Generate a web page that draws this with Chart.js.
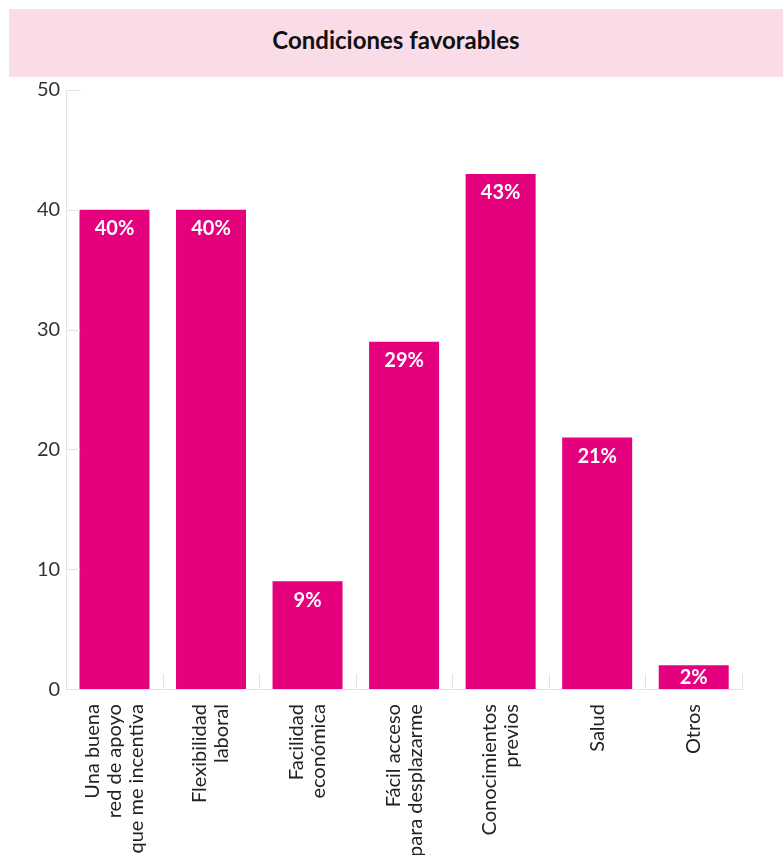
<!DOCTYPE html>
<html>
<head>
<meta charset="utf-8">
<script src="https://cdn.jsdelivr.net/npm/chart.js@4"></script>
<style>
  html, body { margin: 0; padding: 0; background: #fff; }
  #wrap { position: relative; width: 783px; height: 855px; overflow: hidden; }
  #banner {
    position: absolute; left: 9px; top: 9px; width: 774px; height: 68px;
    background: #fadbe8; font-family: Lato, sans-serif; font-weight: bold;
    font-size: 24px; color: #111; text-align: center; line-height: 62px;
  }
  canvas { position: absolute; left: 0; top: 0; }
</style>
</head>
<body>
<div id="wrap">
  <div id="banner">Condiciones favorables</div>
  <canvas id="chart" width="783" height="872"></canvas>
</div>
<script>
/* ── Data ─────────────────────────────────────────────────────────────── */
const categories = [
  ['Una buena', 'red de apoyo', 'que me incentiva'],
  ['Flexibilidad', 'laboral'],
  ['Facilidad', 'económica'],
  ['Fácil acceso', 'para desplazarme'],
  ['Conocimientos', 'previos'],
  ['Salud'],
  ['Otros'],
];
const values = [40, 40, 9, 29, 43, 21, 2];
const yTicks = [0, 10, 20, 30, 40, 50];

const PINK = '#e5007d';
const AXIS = '#e3e3e3';
const LINE_H = 22;
const LABEL_PAD = 15;
const LABEL_FONT = '20px Lato, sans-serif';

/* ── Plugins ──────────────────────────────────────────────────────────── */
// short inward ticks on both axes
const innerTicks = {
  id: 'innerTicks',
  afterDatasetsDraw(chart) {
    const { ctx, scales: { x, y } } = chart;
    ctx.save();
    ctx.strokeStyle = AXIS;
    ctx.lineWidth = 1;
    ctx.beginPath();
    yTicks.forEach(v => {
      const py = Math.round(y.getPixelForValue(v)) + 0.5;
      ctx.moveTo(x.left, py);
      ctx.lineTo(x.left + 14, py);
    });
    for (let i = 0; i < categories.length; i++) {
      const px = Math.round(x.getPixelForValue(i) + (x.getPixelForValue(1) - x.getPixelForValue(0)) / 2) + 0.5;
      ctx.moveTo(px, y.bottom);
      ctx.lineTo(px, y.bottom - 15);
    }
    ctx.stroke();
    ctx.restore();
  }
};

// white value labels at bar tops (centred in short bars)
const valueLabels = {
  id: 'valueLabels',
  afterDatasetsDraw(chart) {
    const { ctx } = chart;
    const meta = chart.getDatasetMeta(0);
    ctx.save();
    ctx.fillStyle = '#fff';
    ctx.font = 'bold 20px Lato, sans-serif';
    ctx.textAlign = 'center';
    ctx.textBaseline = 'middle';
    meta.data.forEach((bar, i) => {
      const ty = Math.min(bar.y + 19, (bar.y + bar.base) / 2);
      ctx.fillText(values[i] + '%', bar.x, ty);
    });
    ctx.restore();
  }
};

// rotated category labels, each block centred on its tick
const categoryLabels = {
  id: 'categoryLabels',
  afterDraw(chart) {
    const { ctx, scales: { x, y } } = chart;
    ctx.save();
    ctx.fillStyle = '#222';
    ctx.font = LABEL_FONT;
    ctx.textAlign = 'right';
    ctx.textBaseline = 'middle';
    categories.forEach((lines, i) => {
      const px = x.getPixelForValue(i);
      lines.forEach((line, j) => {
        ctx.save();
        ctx.translate(px + (j - (lines.length - 1) / 2) * LINE_H, y.bottom + LABEL_PAD);
        ctx.rotate(-Math.PI / 2);
        ctx.fillText(line, 0, 0);
        ctx.restore();
      });
    });
    ctx.restore();
  }
};

/* ── Chart ────────────────────────────────────────────────────────────── */
new Chart(document.getElementById('chart'), {
  type: 'bar',
  data: {
    labels: categories,
    datasets: [{
      data: values,
      backgroundColor: PINK,
      borderWidth: 0,
      barPercentage: 0.725,
      categoryPercentage: 1,
    }],
  },
  options: {
    responsive: false,
    animation: false,
    layout: { padding: { top: 90, right: 41, left: 31, bottom: 0 } },
    plugins: { legend: { display: false }, tooltip: { enabled: false } },
    scales: {
      y: {
        min: 0, max: 50,
        afterBuildTicks: s => { s.ticks = yTicks.map(v => ({ value: v })); },
        grid: { display: false, drawTicks: false },
        border: { display: true, color: AXIS },
        ticks: { color: '#333', padding: 6, font: { family: 'Lato, sans-serif', size: 20 } },
      },
      x: {
        grid: { display: false, drawTicks: false },
        border: { display: true, color: AXIS },
        // tick labels reserve the space; the plugin draws them centred
        ticks: {
          color: 'rgba(0,0,0,0)', padding: LABEL_PAD, minRotation: 90, maxRotation: 90, autoSkip: false,
          font: { family: 'Lato, sans-serif', size: 20, lineHeight: LINE_H / 20 },
        },
      },
    },
  },
  plugins: [innerTicks, valueLabels, categoryLabels],
});
</script>
</body>
</html>
